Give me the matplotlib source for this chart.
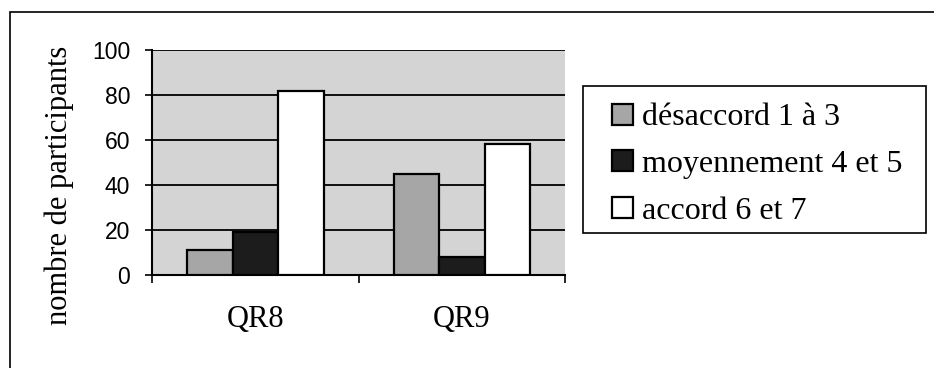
import matplotlib
matplotlib.use("Agg")
import matplotlib.pyplot as plt
import numpy as np
from matplotlib.patches import Rectangle

# Data
questions = ["QR8", "QR9"]
series_names = ["désaccord 1 à 3", "moyennement 4 et 5", "accord 6 et 7"]
desaccord = [11, 45]
moyennement = [19, 8]
accord = [82, 58]
y_ticks = [0, 20, 40, 60, 80, 100]

colors = ["#a6a6a6", "#1c1c1c", "#ffffff"]

fig = plt.figure(figsize=(9.34, 3.68), dpi=100)
ax = fig.add_axes([0.163, 0.253, 0.442, 0.611])
ax.set_facecolor("#d4d4d4")

# Outer frame around the whole chart
fig.patches.append(Rectangle((0.011, -0.01), 1.0, 0.978, transform=fig.transFigure,
                             fill=False, edgecolor="black", linewidth=1.2, zorder=-2))

x = np.arange(len(questions))
bar_w = 0.22
values = [desaccord, moyennement, accord]
for i, (vals, col, name) in enumerate(zip(values, colors, series_names)):
    ax.bar(x + (i - 1) * bar_w, vals, width=bar_w, color=col,
           edgecolor="black", linewidth=1.6, label=name, zorder=3)

ax.set_xlim(-0.5, 1.5)
ax.set_ylim(0, 100)
ax.set_yticks(y_ticks)
ax.set_yticklabels([str(t) for t in y_ticks], family="Liberation Sans", fontsize=16.5)
for t in y_ticks[1:]:
    ax.axhline(t, color="black", linewidth=1.3, zorder=2)

# category labels sit between boundary ticks
ax.set_xticks([-0.5, 0.5, 1.5])
ax.set_xticklabels([])
ax.set_xticks(x, minor=True)
ax.set_xticklabels(questions, minor=True, family="Liberation Serif", fontsize=22)
ax.tick_params(axis="x", which="minor", length=0, pad=22)
ax.tick_params(axis="x", which="major", length=6, width=1.2, direction="out")
ax.tick_params(axis="y", length=5, width=1.2, direction="out", pad=11)

ax.spines["right"].set_visible(False)
ax.spines["top"].set_visible(False)
for s in ["left", "bottom"]:
    ax.spines[s].set_linewidth(1.5)

ax.set_ylabel("nombre de participants", family="Liberation Serif", fontsize=22)
ax.yaxis.set_label_coords(-0.19, 0.40)

# legend box drawn separately (behind the axes), legend entries placed inside it
fig.patches.append(Rectangle((583 / 934, 1 - 233 / 368), 343 / 934, 147 / 368,
                             transform=fig.transFigure, facecolor="white",
                             edgecolor="black", linewidth=1.2, zorder=-1))
leg = ax.legend(loc="upper left", bbox_to_anchor=(0.655, 0.719), bbox_transform=fig.transFigure,
                frameon=False, borderaxespad=0, borderpad=0,
                prop={"family": "Liberation Serif", "size": 23},
                handlelength=0.65, handleheight=0.65, handletextpad=0.3,
                labelspacing=0.55)

fig.savefig("out.png", dpi=100)
